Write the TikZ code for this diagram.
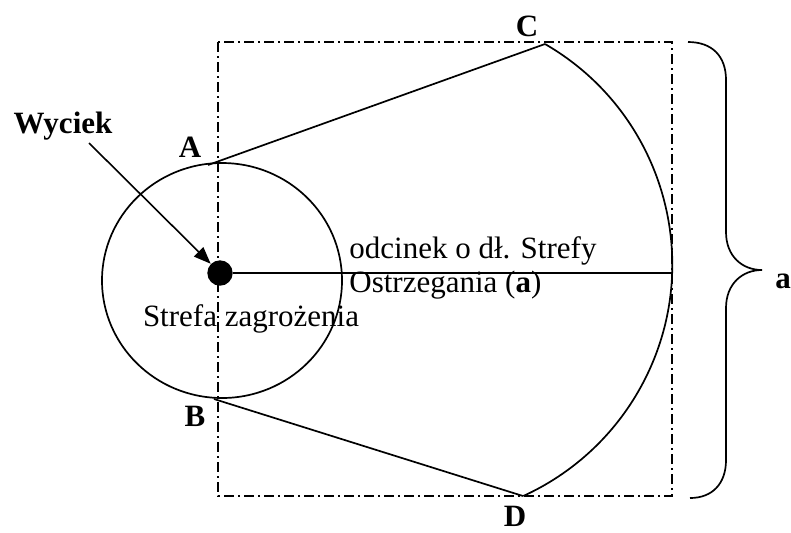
\documentclass[tikz,border=0pt]{standalone}
\usepackage{fontspec}
\setmainfont{Liberation Serif}
\usetikzlibrary{arrows.meta}
\tikzset{
  lbl/.style={font=\fontsize{15.5}{18}\selectfont\bfseries,inner sep=0pt},
  txt/.style={font=\fontsize{15.5}{18}\selectfont,inner sep=0pt},
  arr/.style={-{Triangle[length=8.5pt,width=6.5pt]},line width=0.8pt},
  frame/.style={line width=0.7pt,dash pattern=on 5pt off 2pt on 1pt off 2pt},
  ln/.style={line width=0.85pt},
}

\begin{document}
\begin{tikzpicture}[x=0.5pt,y=-0.5pt]
\useasboundingbox (0,0) rectangle (791,532);
% frame of the warning zone
\draw[frame] (218,42) rectangle (672,496);
% corner points
\coordinate (ptA) at (208,165);
\coordinate (ptB) at (214,399);
\coordinate (ptC) at (545,44);
\coordinate (ptD) at (523,496);
\coordinate (far) at (672,273);
\node[circle,fill,inner sep=0pt,minimum size=12.7pt] (leak) at (220,273) {};
% danger zone
\draw[ln] (222,280.5) ellipse[x radius=120,y radius=117.5];
\draw[ln] (ptA) -- (ptC);
\draw[ln] (ptB) -- (ptD);
\draw[ln] (ptC) arc[start angle=-60,end angle=65.5,radius=254.5];
\draw[ln] (leak) -- (far);
% leak
\node[lbl,anchor=base] (wyciek) at (63,133) {Wyciek};
\coordinate (wstart) at (89,143);
\draw[arr] (wstart) -- (leak);
% labels
\node[lbl] (lblA) at (190,147) {A};
\node[lbl] (lblB) at (195,416) {B};
\node[lbl] (lblC) at (527,26.5) {C};
\node[lbl] (lblD) at (515,516) {D};
\node[txt,anchor=base west] (odc1) at (349,258) {odcinek o dł. Strefy};
\node[txt,anchor=base west] (odc2) at (349,292) {Ostrzegania (\textbf{a})};
\node[txt,anchor=base] (zone) at (251,326) {Strefa zagrożenia};
% brace
\draw[ln] (688,42) .. controls (712,42) and (726,56) .. (726,80) -- (726,232)
  .. controls (726,256) and (742,270) .. (762,270)
  .. controls (742,270) and (726,284) .. (726,308) -- (726,460)
  .. controls (726,484) and (712,498) .. (690,498);
\node[lbl,anchor=base] (lbla) at (783,288) {a};
\end{tikzpicture}
\end{document}
